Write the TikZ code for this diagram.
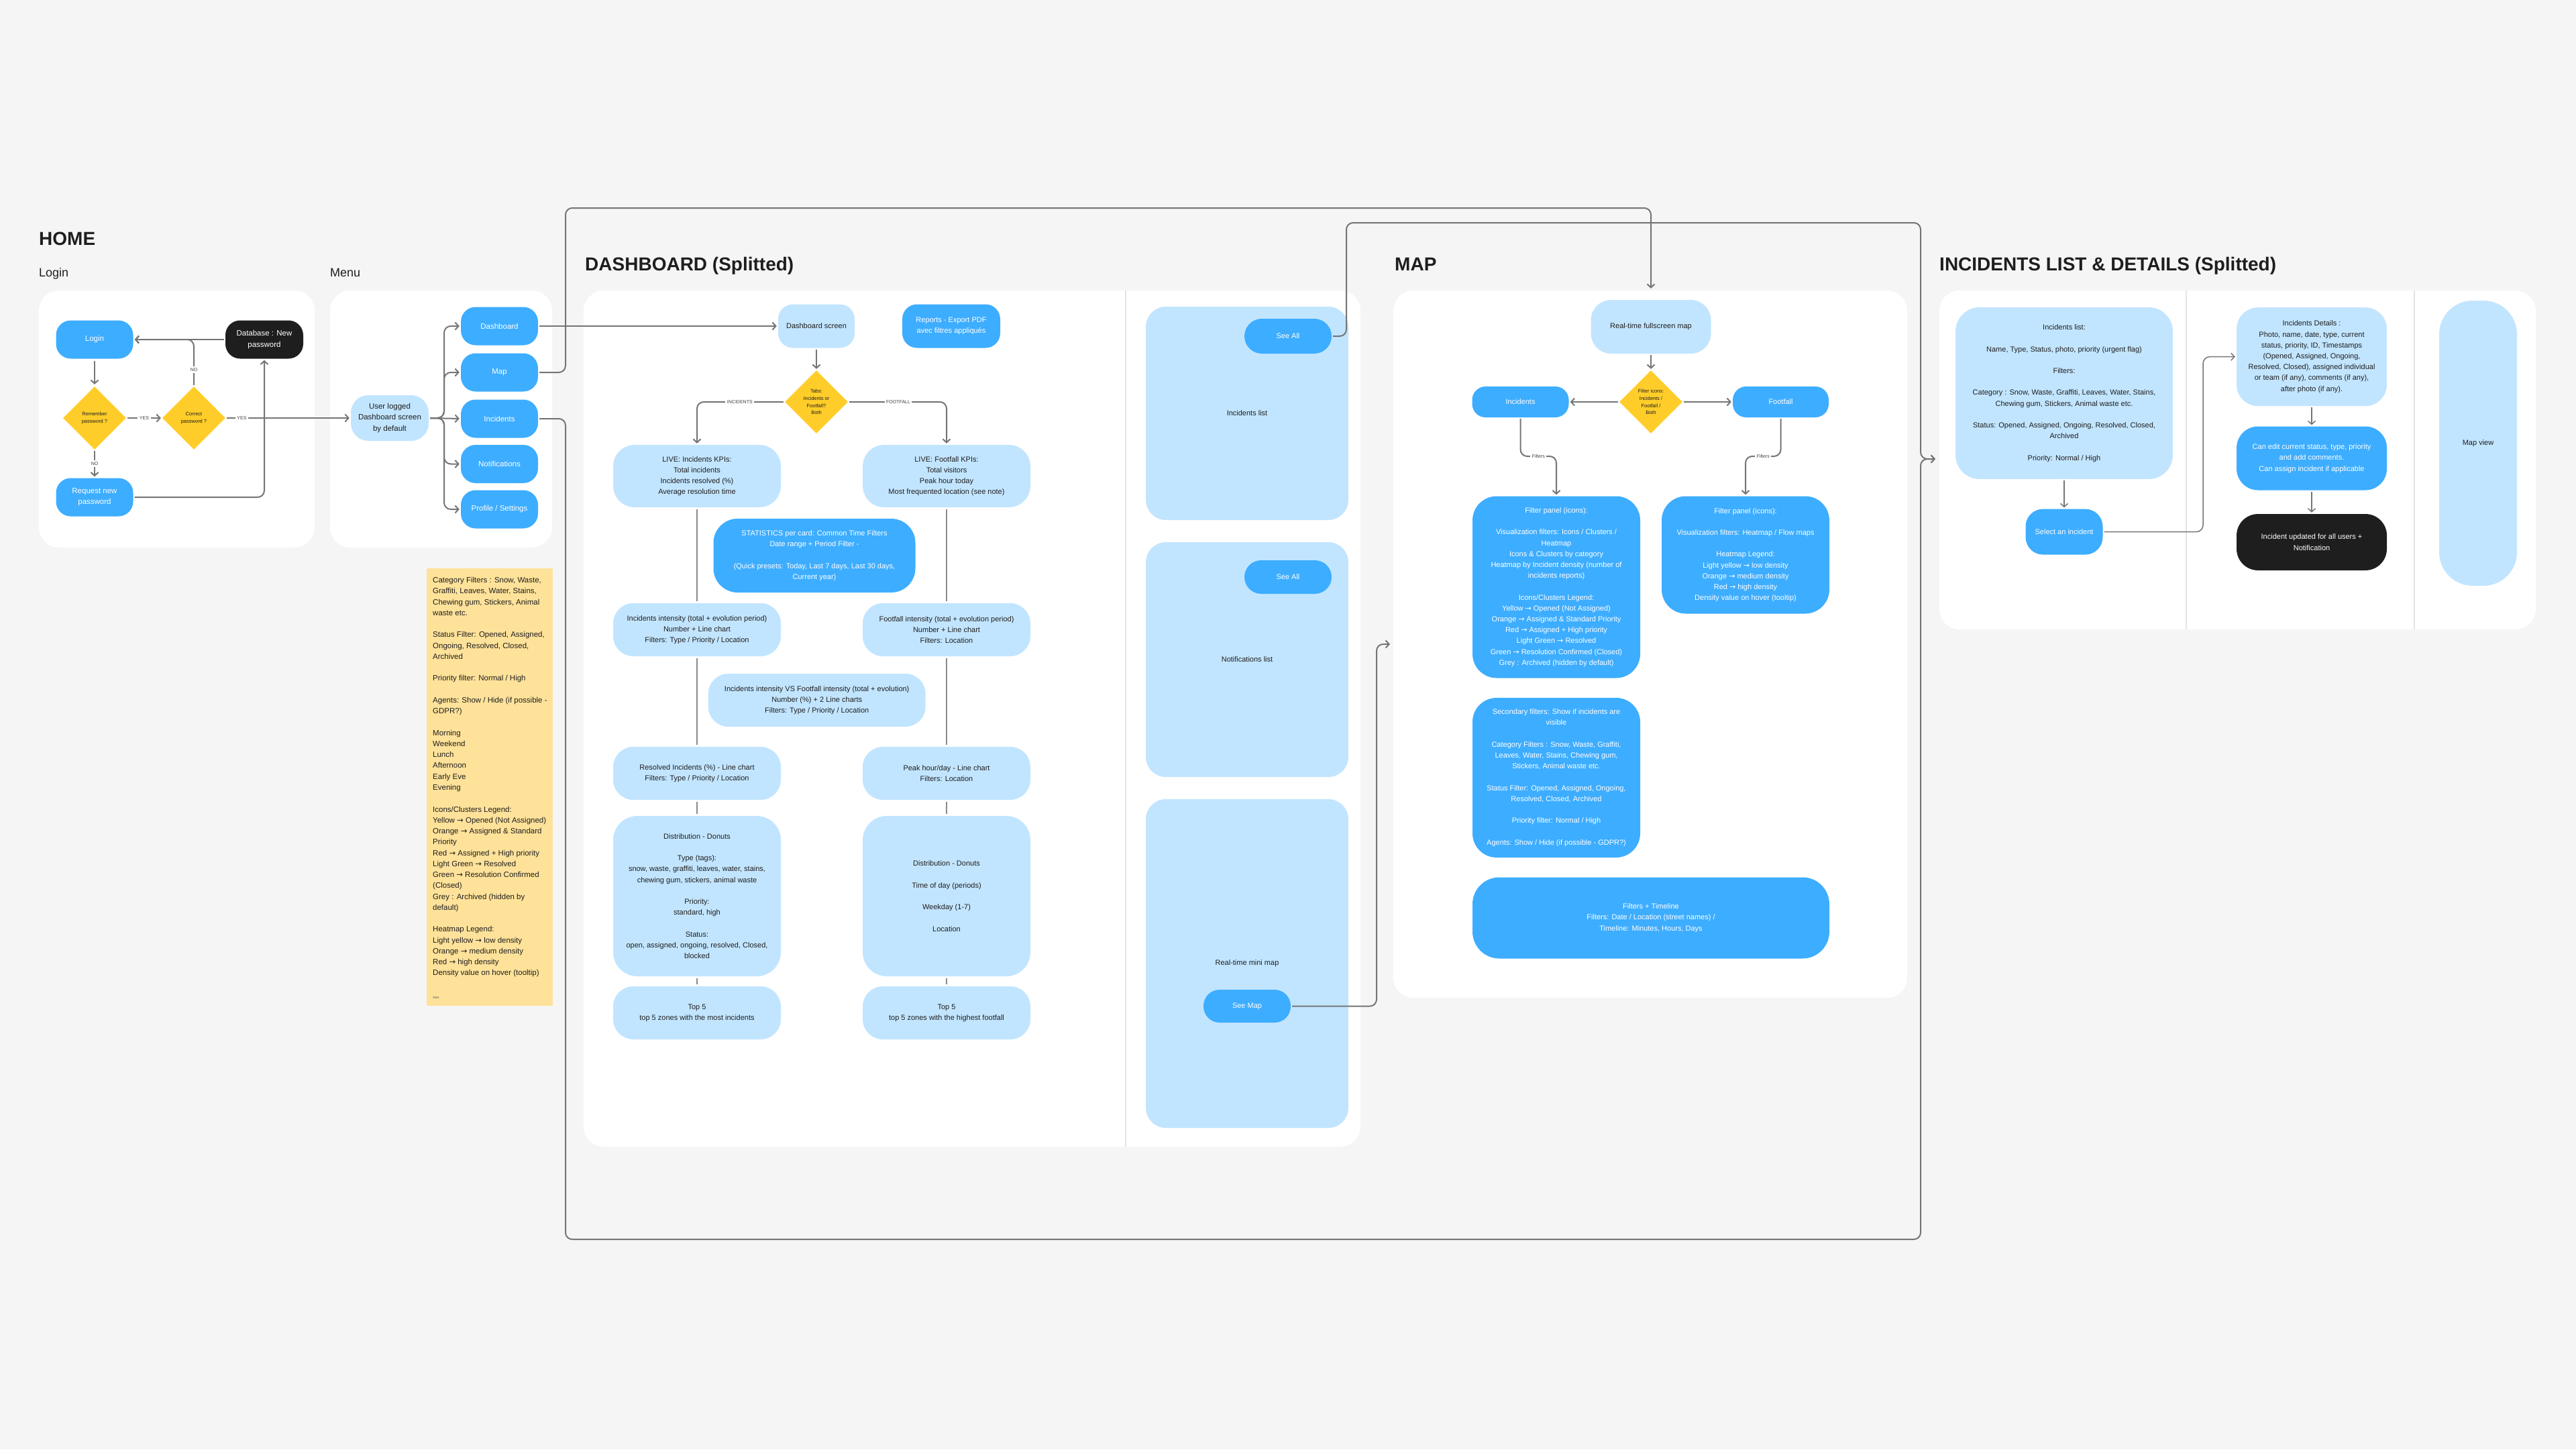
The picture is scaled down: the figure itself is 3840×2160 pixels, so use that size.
\documentclass[tikz,border=0pt]{standalone}
\usepackage{fontspec}
\setmainfont{Liberation Sans}
\newfontfamily\dvfont{DejaVu Sans}
\newcommand{\myarr}{{\dvfont →}}
\usetikzlibrary{shapes.geometric,arrows.meta}
\definecolor{bgc}{HTML}{F5F5F5}
\definecolor{lblue}{HTML}{C2E5FF}
\definecolor{bblue}{HTML}{3DADFF}
\definecolor{ink}{HTML}{1E1E1E}
\definecolor{dyel}{HTML}{FFCD29}
\definecolor{notey}{HTML}{FFE29A}
\definecolor{lc}{HTML}{757575}
\definecolor{divc}{HTML}{E3E3E3}
\begin{document}
\begin{tikzpicture}[x=1pt,y=-1pt,
  txt/.style={font=\fontsize{11}{16.2}\selectfont, align=center, inner sep=0pt},
  box/.style={txt, rectangle, rounded corners=22pt},
  wh/.style 2 args={minimum width=#1pt, minimum height=#2pt},
  lb/.style={box, fill=lblue, text=ink},
  bb/.style={box, fill=bblue, text=white},
  bk/.style={box, fill=ink, text=white},
  hm/.style={font=\fontsize{11.5}{16.2}\selectfont},
  dia/.style={diamond, fill=dyel, minimum width=94pt, minimum height=94pt, inner sep=0pt, align=center, font=\fontsize{7.5}{10.7}\selectfont, text=ink},
  conn/.style={draw=lc, line width=2pt, rounded corners=10pt, shorten >=2pt, shorten <=2pt, -{Straight Barb[length=5pt,width=11pt]}},
  ln/.style={draw=lc!85, line width=1.3pt, shorten >=3pt, shorten <=3pt},
  lbl/.style={fill=white, inner sep=2.5pt, sharp corners, font=\fontsize{7}{8}\selectfont, text=ink!85},
  ttl/.style={anchor=base west, inner sep=0pt, text=ink, font=\fontsize{28}{30}\selectfont\bfseries},
  sub/.style={anchor=base west, inner sep=0pt, text=ink, font=\fontsize{18}{20}\selectfont},
]
\useasboundingbox (0,0) rectangle (3840,2160);
\fill[bgc] (0,0) rectangle (3840,2160);

% ---------- panels ----------
\fill[white, rounded corners=30pt] (58,433) rectangle (469,816);
\fill[white, rounded corners=30pt] (492,433) rectangle (823,816);
\fill[white, rounded corners=30pt] (870,433) rectangle (2028,1709);
\fill[white, rounded corners=30pt] (2077,433) rectangle (2843,1487);
\fill[white, rounded corners=30pt] (2891,433) rectangle (3780,938);
\draw[divc, line width=1.5pt] (1678,433) -- (1678,1709);
\draw[divc, line width=1.5pt] (3259,433) -- (3259,938);
\draw[divc, line width=1.5pt] (3599,433) -- (3599,938);

% ---------- titles ----------
\node[ttl] (thome) at (58,365) {HOME};
\node[sub] (tlogin) at (58,412) {Login};
\node[sub] (tmenu) at (492,412) {Menu};
\node[ttl] (tdash) at (872,403) {DASHBOARD (Splitted)};
\node[ttl] (tmap) at (2079,403) {MAP};
\node[ttl] (tinc) at (2891,403) {INCIDENTS LIST \& DETAILS (Splitted)};

% ---------- home: login ----------
\node[bb,hm,wh={115}{57}] (login) at (141,506) {Login};
\node[bk,hm,wh={116}{57}] (db) at (394,506) {Database : New\\password};
\node[dia] (rem) at (141,623) {Remember\\password ?};
\node[dia] (corr) at (289,623) {Correct\\password ?};
\node[bb,hm,wh={115}{57}] (req) at (141,741) {Request new\\password};

% ---------- home: menu ----------
\node[lb,hm,wh={116}{68},rounded corners=26pt] (user) at (581,623) {User logged\\Dashboard screen\\by default};
\node[bb,hm,wh={115}{57}] (mdash) at (744.5,486) {Dashboard};
\node[bb,hm,wh={115}{57}] (mmap) at (744.5,555) {Map};
\node[bb,hm,wh={115}{57}] (minc) at (744.5,624) {Incidents};
\node[bb,hm,wh={115}{57}] (mnot) at (744.5,691.5) {Notifications};
\node[bb,hm,wh={115}{57}] (mprof) at (744.5,759) {Profile / Settings};

% ---------- sticky note ----------
\node[fill=notey, wh={188}{652}, inner sep=0pt] (note) at (730,1173) {};
\node[anchor=north west, inner sep=0pt, align=left, text=ink, font=\fontsize{11.5}{16.26}\selectfont] (notetext) at (645,860) {Category Filters : Snow, Waste,\\
Graffiti, Leaves, Water, Stains,\\
Chewing gum, Stickers, Animal\\
waste etc.\\[16.26pt]
Status Filter: Opened, Assigned,\\
Ongoing, Resolved, Closed,\\
Archived\\[16.26pt]
Priority filter: Normal / High\\[16.26pt]
Agents: Show / Hide (if possible -\\
GDPR?)\\[16.26pt]
Morning\\
Weekend\\
Lunch\\
Afternoon\\
Early Eve\\
Evening\\[16.26pt]
Icons/Clusters Legend:\\
Yellow \myarr{} Opened (Not Assigned)\\
Orange \myarr{} Assigned \& Standard\\
Priority\\
Red \myarr{} Assigned + High priority\\
Light Green \myarr{} Resolved\\
Green \myarr{} Resolution Confirmed\\
(Closed)\\
Grey : Archived (hidden by\\
default)\\[16.26pt]
Heatmap Legend:\\
Light yellow \myarr{} low density\\
Orange \myarr{} medium density\\
Red \myarr{} high density\\
Density value on hover (tooltip)};
\node[anchor=west, inner sep=0pt, text=ink!70, font=\fontsize{5}{6}\selectfont] (alex) at (645,1487) {Alex};

% ---------- dashboard ----------
\node[lb,wh={114}{65}] (dscreen) at (1217,486) {Dashboard screen};
\node[bb,wh={146}{65}] (reports) at (1418,486) {Reports - Export PDF\\avec filtres appliqués};
\node[dia] (tabs) at (1217,599) {Tabs:\\Incidents or\\Footfall?\\Both};
\node[lb,wh={250}{93},rounded corners=32pt] (livei) at (1039,709.5) {LIVE: Incidents KPIs:\\Total incidents\\Incidents resolved (\%)\\Average resolution time};
\node[lb,wh={250}{93},rounded corners=32pt] (livef) at (1411,709.5) {LIVE: Footfall KPIs:\\Total visitors\\Peak hour today\\Most frequented location (see note)};
\node[bb,wh={301}{110},rounded corners=36pt] (stats) at (1214,828) {STATISTICS per card: Common Time Filters\\Date range + Period Filter -\\[16.2pt](Quick presets: Today, Last 7 days, Last 30 days,\\Current year)};
\node[lb,wh={250}{79},rounded corners=30pt] (inti) at (1039,938.5) {Incidents intensity (total + evolution period)\\Number + Line chart\\Filters: Type / Priority / Location};
\node[lb,wh={250}{79},rounded corners=30pt] (intf) at (1411,938.5) {Footfall intensity (total + evolution period)\\Number + Line chart\\Filters: Location};
\node[lb,wh={324}{79},rounded corners=30pt] (vs) at (1217.7,1043.5) {Incidents intensity VS Footfall intensity (total + evolution)\\Number (\%) + 2 Line charts\\Filters: Type / Priority / Location};
\node[lb,wh={250}{79},rounded corners=30pt] (resi) at (1039,1152.5) {Resolved Incidents (\%) - Line chart\\Filters: Type / Priority / Location};
\node[lb,wh={250}{79},rounded corners=30pt] (peak) at (1411,1152.5) {Peak hour/day - Line chart\\Filters: Location};
\node[lb,wh={250}{239},rounded corners=36pt] (disti) at (1039,1335.5) {Distribution - Donuts\\[16.2pt]Type (tags):\\snow, waste, graffiti, leaves, water, stains,\\chewing gum, stickers, animal waste\\[16.2pt]Priority:\\standard, high\\[16.2pt]Status:\\open, assigned, ongoing, resolved, Closed,\\blocked};
\node[lb,wh={250}{239},rounded corners=36pt] (distf) at (1411,1335.5) {Distribution - Donuts\\[16.2pt]Time of day (periods)\\[16.2pt]Weekday (1-7)\\[16.2pt]Location};
\node[lb,wh={250}{79},rounded corners=30pt] (top5i) at (1039,1509.5) {Top 5\\top 5 zones with the most incidents};
\node[lb,wh={250}{79},rounded corners=30pt] (top5f) at (1411,1509.5) {Top 5\\top 5 zones with the highest footfall};

\node[lb,wh={302}{318},rounded corners=30pt] (card1) at (1859,616) {Incidents list};
\node[bb,wh={130}{52},rounded corners=26pt] (seeall1) at (1920,501) {See All};
\node[lb,wh={302}{350},rounded corners=30pt] (card2) at (1859,983) {Notifications list};
\node[bb,wh={130}{50},rounded corners=25pt] (seeall2) at (1920,860) {See All};
\node[lb,wh={302}{490},rounded corners=30pt] (card3) at (1859,1436) {Real-time mini map};
\node[bb,wh={130}{49},rounded corners=24pt] (seemap) at (1859,1499.5) {See Map};

% ---------- map ----------
\node[lb,wh={179}{80},rounded corners=30pt] (rtmap) at (2461,487) {Real-time fullscreen map};
\node[dia] (filt) at (2461,599) {Filter icons:\\Incidents /\\Footfall /\\Both};
\node[bb,wh={144}{46},rounded corners=20pt] (mapinc) at (2266.5,599) {Incidents};
\node[bb,wh={143}{46},rounded corners=20pt] (mapfoot) at (2654.5,599) {Footfall};
\node[bb,wh={250}{271},rounded corners=36pt] (fp1) at (2320,875) {Filter panel (icons):\\[16.2pt]Visualization filters: Icons / Clusters /\\Heatmap\\Icons \& Clusters by category\\Heatmap by Incident density (number of\\incidents reports)\\[16.2pt]Icons/Clusters Legend:\\Yellow \myarr{} Opened (Not Assigned)\\Orange \myarr{} Assigned \& Standard Priority\\Red \myarr{} Assigned + High priority\\Light Green \myarr{} Resolved\\Green \myarr{} Resolution Confirmed (Closed)\\Grey : Archived (hidden by default)};
\node[bb,wh={250}{175},rounded corners=36pt] (fp2) at (2602,827) {Filter panel (icons):\\[16.2pt]Visualization filters: Heatmap / Flow maps\\[16.2pt]Heatmap Legend:\\Light yellow \myarr{} low density\\Orange \myarr{} medium density\\Red \myarr{} high density\\Density value on hover (tooltip)};
\node[bb,wh={250}{238},rounded corners=36pt] (sec) at (2320,1159) {Secondary filters: Show if incidents are\\visible\\[16.2pt]Category Filters : Snow, Waste, Graffiti,\\Leaves, Water, Stains, Chewing gum,\\Stickers, Animal waste etc.\\[16.2pt]Status Filter: Opened, Assigned, Ongoing,\\Resolved, Closed, Archived\\[16.2pt]Priority filter: Normal / High\\[16.2pt]Agents: Show / Hide (if possible - GDPR?)};
\node[bb,wh={532}{121},rounded corners=40pt] (timeline) at (2461,1368) {Filters + Timeline\\Filters: Date / Location (street names) /\\Timeline: Minutes, Hours, Days};

% ---------- incidents ----------
\node[lb,wh={324}{256},rounded corners=36pt] (ilist) at (3077,586) {Incidents list:\\[16.2pt]Name, Type, Status, photo, priority (urgent flag)\\[16.2pt]Filters:\\[16.2pt]Category : Snow, Waste, Graffiti, Leaves, Water, Stains,\\Chewing gum, Stickers, Animal waste etc.\\[16.2pt]Status: Opened, Assigned, Ongoing, Resolved, Closed,\\Archived\\[16.2pt]Priority: Normal / High};
\node[bb,wh={115}{68},rounded corners=26pt] (select) at (3077,792.6) {Select an incident};
\node[lb,wh={224}{147},rounded corners=32pt] (details) at (3446,531.7) {Incidents Details :\\Photo, name, date, type, current\\status, priority, ID, Timestamps\\(Opened, Assigned, Ongoing,\\Resolved, Closed), assigned individual\\or team (if any), comments (if any),\\after photo (if any).};
\node[bb,wh={224}{95},rounded corners=32pt] (canedit) at (3446,683) {Can edit current status, type, priority\\and add comments.\\Can assign incident if applicable};
\node[bk,wh={224}{84},rounded corners=32pt] (updated) at (3446,808) {Incident updated for all users +\\Notification};
\node[lb,wh={116}{425},rounded corners=50pt] (mapview) at (3694,660.5) {Map view};

% ---------- free ends ----------
\coordinate (incin) at (2887,684);
\coordinate (mapin) at (2074,960);

% ---------- connectors: home ----------
\draw[conn, shorten >=3pt, shorten <=3pt] (login.south) -- (rem.north);
\draw[conn] (rem.east) -- node[lbl]{YES} (corr.west);
\draw[conn] (rem.south) -- node[lbl]{NO} (req.north);
\draw[conn] (corr.north) -- node[lbl,pos=0.35]{NO} (corr.north |- login.east) -- (login.east);
\draw[conn] (db.west) -- (login.east);
\draw[conn] (corr.east) -- node[lbl,pos=0.13]{YES} (user.west);
\draw[conn] (req.east) -| (db.south);

\draw[conn] (user.east) -- (662,623) |- (mdash.west);
\draw[conn] (user.east) -- (662,623) |- (mmap.west);
\draw[conn] (user.east) -- (minc.west);
\draw[conn] (user.east) -- (662,623) |- (mnot.west);
\draw[conn] (user.east) -- (662,623) |- (mprof.west);

% ---------- connectors: between sections ----------
\draw[conn] (mdash.east) -- (dscreen.west);
\draw[conn, shorten >=17pt] (mmap.east) -- (843,555) -- (843,310) -| (rtmap.north);
\draw[conn] (minc.east) -- (843,624) -- (843,1847) -| (2863,684) -- (incin);
\draw[conn] (seeall1.east) -- (2007,501) -- (2007,332) -| (2863,684) -- (incin);
\draw[conn] (seemap.east) -- (2052,1499.5) |- (mapin);

% ---------- connectors: dashboard ----------
\draw[conn] (dscreen.south) -- (tabs.north);
\draw[conn] (tabs.west) -| node[lbl,pos=0.256]{INCIDENTS} (livei.north);
\draw[conn] (tabs.east) -| node[lbl,pos=0.255]{FOOTFALL} (livef.north);
\draw[ln] (livei.south) -- (inti.north);
\draw[ln] (inti.south) -- (resi.north);
\draw[ln] (resi.south) -- (disti.north);
\draw[ln] (disti.south) -- (top5i.north);
\draw[ln] (livef.south) -- (intf.north);
\draw[ln] (intf.south) -- (peak.north);
\draw[ln] (peak.south) -- (distf.north);
\draw[ln] (distf.south) -- (top5f.north);

% ---------- connectors: map ----------
\draw[conn] (rtmap.south) -- (filt.north);
\draw[conn] (filt.west) -- (mapinc.east);
\draw[conn] (filt.east) -- (mapfoot.west);
\draw[conn] (mapinc.south) -- (mapinc.south |- 0,680) -- node[lbl]{Filters} (fp1.north |- 0,680) -- (fp1.north);
\draw[conn] (mapfoot.south) -- (mapfoot.south |- 0,680) -- node[lbl]{Filters} (fp2.north |- 0,680) -- (fp2.north);

% ---------- connectors: incidents ----------
\draw[conn, line width=1.5pt] (ilist.south) -- (select.north);
\draw[conn, line width=1.5pt] (select.east) -- (3284,792.6) |- (details.west);
\draw[conn, line width=1.5pt] (details.south) -- (canedit.north);
\draw[conn, line width=1.5pt] (canedit.south) -- (updated.north);
\end{tikzpicture}
\end{document}
